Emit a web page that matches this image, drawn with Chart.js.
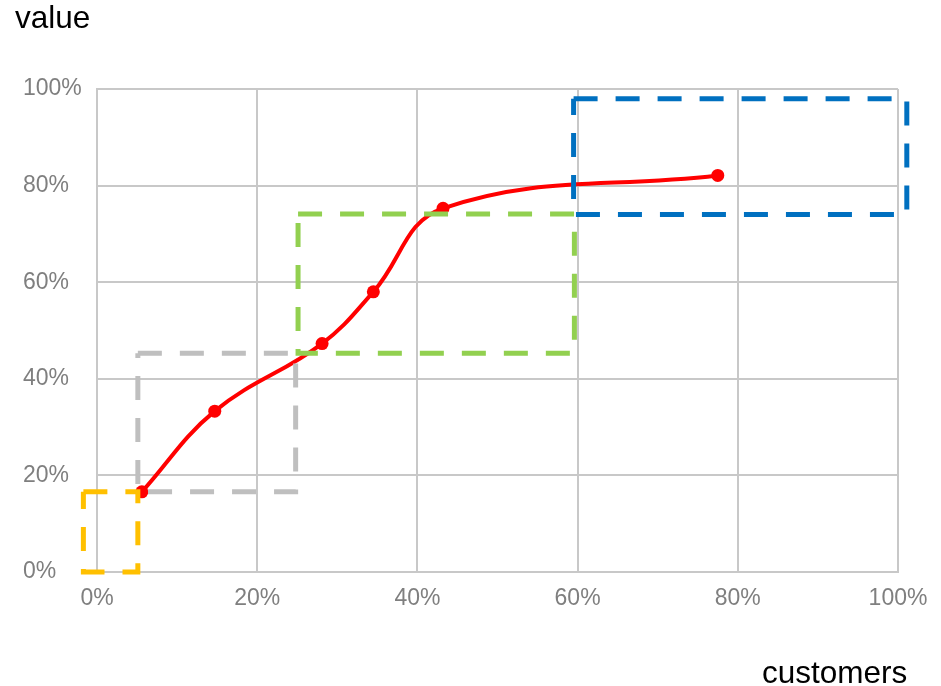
<!DOCTYPE html>
<html>
<head>
<meta charset="utf-8">
<script src="https://cdn.jsdelivr.net/npm/chart.js@4/dist/chart.umd.min.js"></script>
<style>
  html, body { margin: 0; padding: 0; background: #ffffff; }
  #wrap { position: relative; width: 941px; height: 686px; }
  #chart { position: absolute; left: 0; top: 0; }
  .axis-title {
    position: absolute;
    font-family: "Liberation Sans", Arial, sans-serif;
    font-size: 31.5px;
    line-height: 31.5px;
    color: #000000;
    white-space: nowrap;
  }
</style>
</head>
<body>
<div id="wrap">
  <canvas id="chart" width="941" height="686"></canvas>
  <div class="axis-title" style="left:15px; top:2px;">value</div>
  <div class="axis-title" style="left:762px; top:657px;">customers</div>
</div>
<script>
// Cumulative curve: share of customers (x) vs share of value (y), in percent
const customerShare = [5.6, 14.7, 28.1, 34.5, 43.2, 77.5];
const valueShare    = [16.6, 33.3, 47.3, 58.0, 75.3, 82.1];

// Segment boxes, each spanning [left, right] x [bottom, top] in percent
const segmentNames = ['A', 'B', 'C', 'D'];
const boxLeft   = [-1.7, 5.1, 25.1, 59.5];
const boxRight  = [5.1, 24.8, 59.6, 101.1];
const boxBottom = [0, 16.6, 45.3, 74.0];
const boxTop    = [16.6, 45.3, 74.1, 98.0];

// Axis ticks
const tickValues = [0, 20, 40, 60, 80, 100];

const boxColors = ['#FFC000', '#BFBFBF', '#92D050', '#0070C0'];

function boxPath(i) {
  return [
    { x: boxLeft[i],  y: boxTop[i] },
    { x: boxRight[i], y: boxTop[i] },
    { x: boxRight[i], y: boxBottom[i] },
    { x: boxLeft[i],  y: boxBottom[i] },
    { x: boxLeft[i],  y: boxTop[i] }
  ];
}

const boxDatasets = segmentNames.map((name, i) => ({
  label: name,
  data: boxPath(i),
  borderColor: boxColors[i],
  borderWidth: 5,
  borderDash: [24, 18],
  borderCapStyle: 'butt',
  borderJoinStyle: 'miter',
  pointRadius: 0,
  tension: 0,
  fill: false,
  clip: false
}));

const curveDataset = {
  label: 'curve',
  data: customerShare.map((x, i) => ({ x: x, y: valueShare[i] })),
  borderColor: '#FF0000',
  backgroundColor: '#FF0000',
  borderWidth: 4,
  pointRadius: 6.5,
  pointBorderWidth: 0,
  pointBackgroundColor: '#FF0000',
  tension: 0.4,
  fill: false,
  clip: false
};

const tickFont = { family: '"Liberation Sans", Arial, sans-serif', size: 23 };
const gridColor = '#c8c8c8';

function percentAxis(extra) {
  return Object.assign({
    type: 'linear',
    min: 0,
    max: 100,
    afterBuildTicks: (scale) => { scale.ticks = tickValues.map(v => ({ value: v })); },
    ticks: {
      font: tickFont,
      color: '#7f7f7f',
      callback: (v) => v + '%'
    },
    grid: {
      color: gridColor,
      lineWidth: 2,
      drawTicks: false
    },
    border: { display: true, color: gridColor, width: 2 }
  }, extra);
}

const xAxis = percentAxis({ position: 'bottom' });
xAxis.ticks = Object.assign({}, xAxis.ticks, { padding: 13, maxRotation: 0 });
xAxis.afterFit = (scale) => { scale.height = 114; };

// y labels are left-aligned in a column starting at the left padding
const yAxis = percentAxis({ position: 'left' });
yAxis.ticks = Object.assign({}, yAxis.ticks, { padding: 10, crossAlign: 'far' });
yAxis.afterFit = (scale) => { scale.width = 74; };

new Chart(document.getElementById('chart'), {
  type: 'line',
  data: { datasets: boxDatasets.concat([curveDataset]) },
  options: {
    responsive: false,
    animation: false,
    layout: { padding: { top: 89, right: 43, left: 23, bottom: 0 } },
    plugins: {
      legend: { display: false },
      tooltip: { enabled: false }
    },
    scales: { x: xAxis, y: yAxis }
  }
});
</script>
</body>
</html>
